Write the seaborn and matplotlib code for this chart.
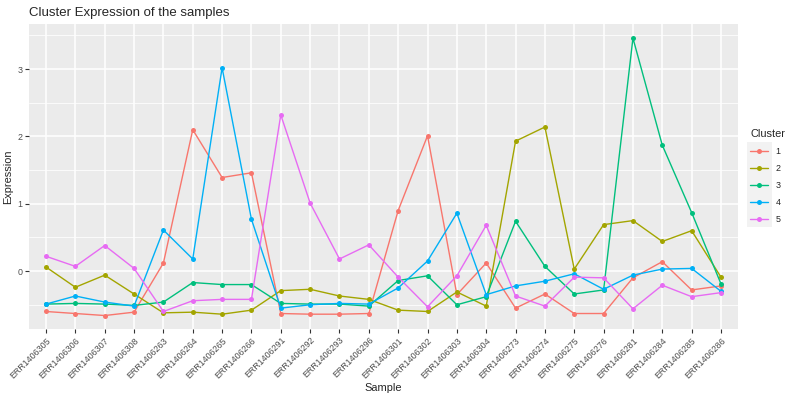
import matplotlib
matplotlib.use("Agg")
import matplotlib.pyplot as plt
from matplotlib.patches import Rectangle
from matplotlib.ticker import MultipleLocator
import numpy as np
import pandas as pd
import seaborn as sns

samples = ["ERR1406305", "ERR1406306", "ERR1406307", "ERR1406308",
           "ERR1406263", "ERR1406264", "ERR1406265", "ERR1406266",
           "ERR1406291", "ERR1406292", "ERR1406293", "ERR1406296",
           "ERR1406301", "ERR1406302", "ERR1406303", "ERR1406304",
           "ERR1406273", "ERR1406274", "ERR1406275", "ERR1406276",
           "ERR1406281", "ERR1406284", "ERR1406285", "ERR1406286"]

cluster1 = [-0.60, -0.63, -0.66, -0.61, 0.12, 2.10, 1.39, 1.46, -0.63, -0.64, -0.64, -0.63,
            0.90, 2.01, -0.35, 0.12, -0.55, -0.34, -0.63, -0.63, -0.10, 0.14, -0.28, -0.22]
cluster2 = [0.06, -0.24, -0.06, -0.34, -0.62, -0.61, -0.64, -0.58, -0.29, -0.27, -0.37, -0.42,
            -0.58, -0.60, -0.31, -0.52, 1.93, 2.14, 0.03, 0.69, 0.75, 0.44, 0.60, -0.09]
cluster3 = [-0.49, -0.48, -0.49, -0.51, -0.46, -0.17, -0.20, -0.20, -0.48, -0.49, -0.49, -0.52,
            -0.14, -0.07, -0.50, -0.38, 0.74, 0.07, -0.34, -0.28, 3.46, 1.87, 0.87, -0.19]
cluster4 = [-0.49, -0.37, -0.46, -0.52, 0.61, 0.18, 3.02, 0.77, -0.55, -0.50, -0.48, -0.49,
            -0.25, 0.15, 0.86, -0.35, -0.22, -0.15, -0.04, -0.27, -0.06, 0.03, 0.04, -0.30]
cluster5 = [0.22, 0.07, 0.38, 0.04, -0.60, -0.44, -0.42, -0.42, 2.32, 1.01, 0.18, 0.39,
            -0.09, -0.53, -0.07, 0.68, -0.37, -0.52, -0.09, -0.10, -0.56, -0.21, -0.38, -0.32]

clusters = ["1", "2", "3", "4", "5"]
palette = ["#F8766D", "#A3A500", "#00BF7D", "#00B0F6", "#E76BF3"]

rows = []
for name, vals in zip(clusters, [cluster1, cluster2, cluster3, cluster4, cluster5]):
    for s, v in zip(samples, vals):
        rows.append({"Sample": s, "Expression": v, "Cluster": name})
df = pd.DataFrame(rows)
df["Sample"] = pd.Categorical(df["Sample"], categories=samples, ordered=True)
df["pos"] = df["Sample"].cat.codes

sns.set_style("darkgrid", {"axes.facecolor": "#EBEBEB", "grid.color": "white"})
plt.rcParams["font.family"] = ["Liberation Sans", "DejaVu Sans"]

fig, ax = plt.subplots(figsize=(8, 4), dpi=100)
fig.subplots_adjust(left=0.03625, right=0.9225, top=0.94, bottom=0.1775)

sns.lineplot(data=df, x="pos", y="Expression", hue="Cluster", palette=palette,
             marker="o", markersize=3.6, markeredgewidth=0, linewidth=1.0,
             sort=False, ax=ax)

ax.set_xticks(range(len(samples)))
ax.set_xticklabels(samples, rotation=45, ha="right", rotation_mode="anchor",
                   fontsize=6.4, color="#4D4D4D")
ax.set_xlim(-0.58, len(samples) - 0.42)
ax.set_ylim(-0.86, 3.67)
ax.yaxis.set_major_locator(MultipleLocator(1))
ax.yaxis.set_minor_locator(MultipleLocator(0.5))
ax.tick_params(axis="y", labelsize=6.4, labelcolor="#4D4D4D")
ax.tick_params(axis="both", which="major", length=2.8, width=0.8, color="#333333",
               bottom=True, left=True, pad=2)
ax.tick_params(axis="both", which="minor", length=0)
ax.grid(which="major", color="white", linewidth=1.1)
ax.grid(which="minor", color="white", linewidth=0.55)
ax.set_axisbelow(True)
for sp in ax.spines.values():
    sp.set_visible(False)

ax.set_xlabel("Sample", fontsize=7.9, labelpad=2)
ax.set_ylabel("Expression", fontsize=7.9, labelpad=3)
ax.set_title("Cluster Expression of the samples", loc="left", fontsize=9.5, pad=6)

handles, labels = ax.get_legend_handles_labels()
leg = ax.legend(handles, labels, title="Cluster", loc="center left",
                bbox_to_anchor=(1.01, 0.5), frameon=False, fontsize=6.4,
                title_fontsize=7.9, handlelength=2.0, labelspacing=0.9,
                borderaxespad=0.2)
leg._legend_box.align = "left"

# ggplot-style grey key background behind the legend glyphs
fig.canvas.draw()
renderer = fig.canvas.get_renderer()
boxes = [h.get_window_extent(renderer) for h in leg.legend_handles]
xs0 = min(b.x0 for b in boxes)
xs1 = max(b.x1 for b in boxes)
ycs = sorted((b.y0 + b.y1) / 2 for b in boxes)
step = (ycs[-1] - ycs[0]) / (len(ycs) - 1)
inv = fig.transFigure.inverted()
(fx0, fy0) = inv.transform((xs0 - 1, ycs[0] - step / 2))
(fx1, fy1) = inv.transform((xs1 + 1, ycs[-1] + step / 2))
fig.patches.append(Rectangle((fx0, fy0), fx1 - fx0, fy1 - fy0, transform=fig.transFigure,
                             facecolor="#F2F2F2", edgecolor="none", zorder=-1))

fig.savefig("out.png", dpi=100)
